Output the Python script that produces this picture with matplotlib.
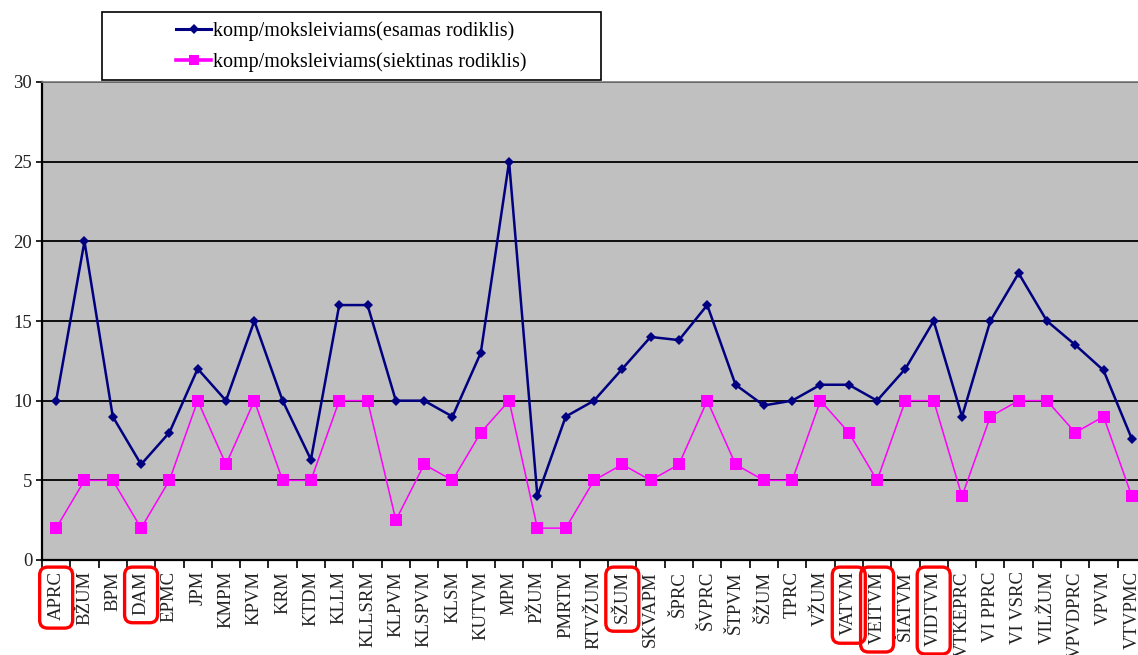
import matplotlib
matplotlib.use("Agg")
import matplotlib.pyplot as plt
from matplotlib.patches import FancyBboxPatch, Rectangle
from matplotlib.lines import Line2D
from matplotlib.transforms import IdentityTransform
import numpy as np

# School codes along the x axis
schools = ["APRC", "BŽUM", "BPM", "DAM", "EPMC", "JPM", "KMPM", "KPVM", "KRM",
           "KTDM", "KLLM", "KLLSRM", "KLPVM", "KLSPVM", "KLSM", "KUTVM", "MPM",
           "PŽUM", "PMRTM", "RTVŽUM", "SŽUM", "SKVAPM", "ŠPRC", "ŠVPRC", "ŠTPVM",
           "ŠŽUM", "TPRC", "VŽUM", "VATVM", "VEITVM", "ŠIATVM", "VIDTVM",
           "VTKEPRC", "VI PPRC", "VI VSRC", "VILŽUM", "VPVDPRC", "VPVM", "VTVPMC"]

# Pupils per computer: current value and target value
current = [10, 20, 9, 6, 8, 12, 10, 15, 10, 6.3, 16, 16, 10, 10, 9, 13, 25, 4, 9,
           10, 12, 14, 13.8, 16, 11, 9.7, 10, 11, 11, 10, 12, 15, 9, 15, 18, 15,
           13.5, 11.9, 7.6]
target = [2, 5, 5, 2, 5, 10, 6, 10, 5, 5, 10, 10, 2.5, 6, 5, 8, 10, 2, 2, 5, 6,
          5, 6, 10, 6, 5, 5, 10, 8, 5, 10, 10, 4, 9, 10, 10, 8, 9, 4]

series_labels = ["komp/moksleiviams(esamas rodiklis)",
                 "komp/moksleiviams(siektinas rodiklis)"]
y_ticks = [0, 5, 10, 15, 20, 25, 30]

# Codes marked by hand
highlighted = ["APRC", "DAM", "SŽUM", "VATVM", "VEITVM", "VIDTVM"]

SERIF = ["Liberation Serif", "DejaVu Serif"]
NAVY = "#000080"
MAGENTA = "#FF00FF"

W, H = 1138, 655
fig = plt.figure(figsize=(W / 100, H / 100), dpi=100)
fig.patch.set_facecolor("white")
ax = fig.add_axes([42 / W, 95 / H, 1104 / W, 478 / H])
ax.set_facecolor("#C0C0C0")

x = np.arange(len(schools))
ax.plot(x, current, color=NAVY, lw=1.8, marker="D", ms=5.2, mew=0, zorder=4)
ax.plot(x, target, color=MAGENTA, lw=1.1, marker="s", ms=8, mew=0, zorder=3)

ax.set_xlim(-0.5, len(schools) - 0.5)
ax.set_ylim(0, 30)

# y axis
ax.set_yticks(y_ticks)
ax.set_yticklabels([str(v) for v in y_ticks], family=SERIF, fontsize=13.5,
                   color="#222222")
ax.tick_params(axis="y", length=4, width=1.2, pad=3, direction="out")
ax.yaxis.grid(True, color="black", lw=1.3)
ax.set_axisbelow(True)

# x axis: labels at category centers, tick marks between categories
ax.set_xticks(x)
ax.set_xticklabels(schools, rotation=90, family=SERIF, fontsize=13.5,
                   color="#222222", va="top", ha="center")
ax.set_xticks(np.arange(len(schools) + 1) - 0.5, minor=True)
ax.tick_params(axis="x", which="major", length=0, pad=8)
ax.tick_params(axis="x", which="minor", length=6, width=1.2, direction="out")

for side in ("left", "bottom"):
    ax.spines[side].set_color("black")
    ax.spines[side].set_linewidth(1.6)
ax.spines["top"].set_color("#7a7a7a")
ax.spines["top"].set_linewidth(1.2)
ax.spines["right"].set_visible(False)

# Legend box above the plot area
box = Rectangle((102 / W, 1 - 80 / H), 499 / W, 68 / H,
                transform=fig.transFigure, facecolor="white",
                edgecolor="black", lw=1.2, zorder=5)
fig.add_artist(box)
handles = [Line2D([], [], color=NAVY, lw=2.2, marker="D", ms=5, mew=0),
           Line2D([], [], color=MAGENTA, lw=2.6, marker="s", ms=7.5, mew=0)]
leg = fig.legend(handles, series_labels, loc="center",
                 bbox_to_anchor=((102 + 601) / 2 / W, 1 - 47 / H),
                 frameon=False, prop={"family": SERIF, "size": 14.5},
                 handlelength=1.75, handletextpad=0.1, labelspacing=0.55)
leg.set_zorder(6)

# Hand-drawn style red outlines round the marked codes
fig.canvas.draw()
renderer = fig.canvas.get_renderer()
for lab in ax.get_xticklabels():
    if lab.get_text() in highlighted:
        bb = lab.get_window_extent(renderer)
        x0, x1 = bb.x0 - 8, bb.x1 + 8
        y0, y1 = bb.y0 - 8, bb.y1 + 4
        patch = FancyBboxPatch((x0, y0), x1 - x0, y1 - y0,
                               boxstyle="round,pad=0,rounding_size=8",
                               transform=IdentityTransform(),
                               facecolor="none", edgecolor="#FF0000",
                               lw=2.4, zorder=10)
        fig.add_artist(patch)

fig.savefig("out.png", dpi=100)
